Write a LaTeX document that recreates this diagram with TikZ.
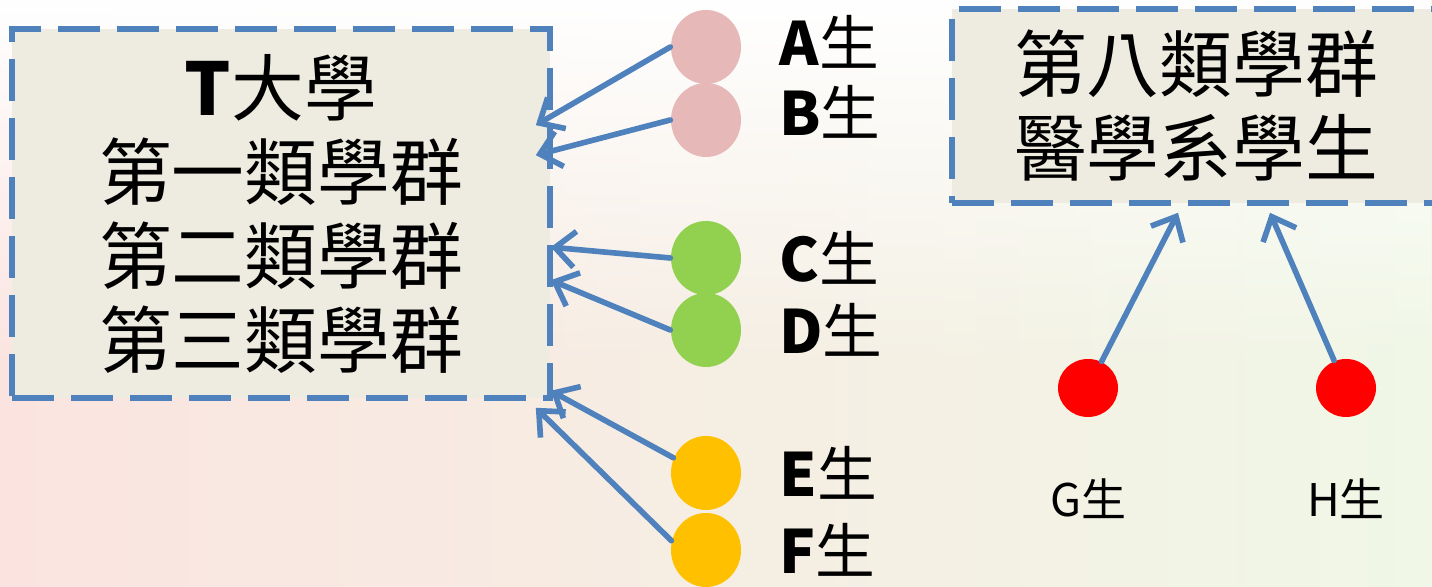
\documentclass[tikz,border=0pt]{standalone}
\usepackage{fontspec}
\setmainfont{Noto Sans CJK TC}
\usetikzlibrary{arrows.meta,positioning,shapes.geometric,fadings}
\definecolor{boxblue}{RGB}{79,129,189}
\definecolor{boxtan}{RGB}{238,236,225}
\definecolor{dotpink}{RGB}{230,185,184}
\definecolor{dotgreen}{RGB}{146,208,80}
\definecolor{dotorange}{RGB}{255,192,0}
\definecolor{dotred}{RGB}{255,0,0}
\definecolor{bgpink}{RGB}{251,228,224}
\definecolor{bgyellow}{RGB}{254,252,220}
\definecolor{bggreen}{RGB}{240,247,230}
\tikzfading[name=fadedown, top color=transparent!0, bottom color=transparent!100]

\begin{document}
\begin{tikzpicture}[
	groupbox/.style={draw=boxblue,fill=boxtan,line width=1.6pt,dash pattern=on 0.42cm off 0.17cm,rectangle,inner sep=0pt,align=center,font=\fontsize{20.7}{23.9}\selectfont},
	student/.style={ellipse,minimum width=0.70cm,minimum height=0.74cm,inner sep=0pt},
	sname/.style={inner sep=0pt,font=\fontsize{17}{20}\selectfont},
	pick/.style={-{Straight Barb[length=2mm,width=3.6mm]},line width=1.6pt,draw=boxblue,line cap=round}]
	\useasboundingbox (0,0) rectangle (14.32,5.87);
	\shade[left color=bgpink,middle color=bgyellow,right color=bggreen] (0,0) rectangle (14.32,5.87);
	\fill[white,path fading=fadedown] (0,2.2) rectangle (14.32,5.87);
	\node[groupbox,minimum width=5.38cm,minimum height=3.69cm] (L) at (2.81,3.735) {\textbf{T}大學\\第一類學群\\第二類學群\\第三類學群};
	\node[groupbox,minimum width=4.88cm,minimum height=1.94cm] (R) at (11.96,4.81) {第八類學群\\醫學系學生};
	\node[student,fill=dotpink] (a) at (7.06,5.40) {};
	\node[student,fill=dotpink] (b) at (7.06,4.67) {};
	\node[student,fill=dotgreen] (c) at (7.06,3.29) {};
	\node[student,fill=dotgreen] (d) at (7.06,2.57) {};
	\node[student,fill=dotorange] (e) at (7.06,1.14) {};
	\node[student,fill=dotorange] (f) at (7.06,0.37) {};
	\node[student,fill=dotred,minimum width=0.6cm,minimum height=0.58cm] (g) at (10.88,1.99) {};
	\node[student,fill=dotred,minimum width=0.6cm,minimum height=0.58cm] (h) at (13.46,1.99) {};
	\node[sname,right=0.37cm of a,yshift=0.05cm] (la) {\textbf{A}生};
	\node[sname,right=0.37cm of b,yshift=0.08cm] (lb) {\textbf{B}生};
	\node[sname,right=0.37cm of c] (lc) {\textbf{C}生};
	\node[sname,right=0.37cm of d] (ld) {\textbf{D}生};
	\node[sname,right=0.37cm of e] (le) {\textbf{E}生};
	\node[sname,right=0.37cm of f] (lf) {\textbf{F}生};
	\node[sname,font=\fontsize{12.8}{15}\selectfont,below=0.6cm of g] (lg) {G生};
	\node[sname,font=\fontsize{12.8}{15}\selectfont,below=0.6cm of h] (lh) {H生};
	\draw[pick] (a.west) -- ([shift={(-0.17,-0.99)}]L.north east);
	\draw[pick] (b.west) -- ([shift={(-0.17,-1.29)}]L.north east);
	\draw[pick] (c.west) -- ([shift={(-0.02,-2.21)}]L.north east);
	\draw[pick] (d.west) -- ([shift={(-0.02,-2.54)}]L.north east);
	\draw[pick] (e.155) -- ([shift={(-0.02,0.10)}]L.south east);
	\draw[pick] (f.165) -- ([shift={(-0.17,-0.07)}]L.south east);
	\draw[pick] (g) -- ([shift={(-0.18,-0.07)}]R.south);
	\draw[pick] (h) -- ([shift={(0.74,-0.07)}]R.south);
\end{tikzpicture}
\end{document}
